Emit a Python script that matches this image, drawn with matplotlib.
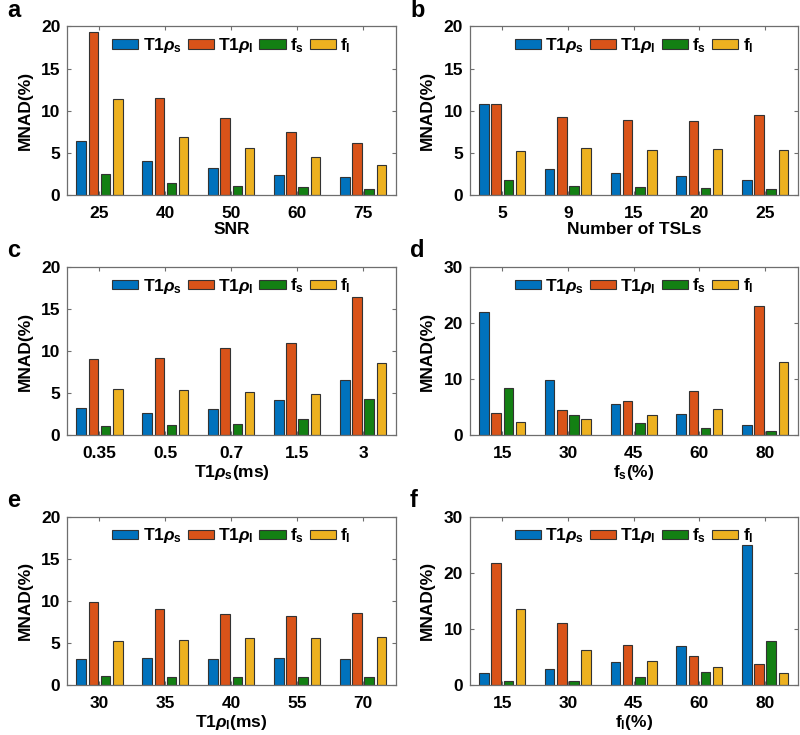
import matplotlib
matplotlib.use("Agg")
import matplotlib.pyplot as plt
import numpy as np

plt.rcParams['font.family'] = ['Liberation Sans', 'DejaVu Sans']
plt.rcParams['font.weight'] = 'bold'
plt.rcParams['mathtext.fontset'] = 'custom'
plt.rcParams['mathtext.rm'] = 'Liberation Sans:bold'
plt.rcParams['mathtext.bf'] = 'Liberation Sans:bold'
plt.rcParams['mathtext.it'] = 'Liberation Sans:italic'

series_names = [r'T1$\rho_\mathrm{s}$', r'T1$\rho_\mathrm{l}$', r'f$_\mathrm{s}$', r'f$_\mathrm{l}$']
colors = ['#0072BD', '#D95319', '#138013', '#EDB120']

# Panel a
a_ticks = ['25', '40', '50', '60', '75']
a_t1s = [6.4, 4.0, 3.2, 2.4, 2.1]
a_t1l = [19.4, 11.5, 9.1, 7.4, 6.1]
a_fs = [2.5, 1.4, 1.1, 0.9, 0.7]
a_fl = [11.4, 6.9, 5.6, 4.5, 3.5]

# Panel b
b_ticks = ['5', '9', '15', '20', '25']
b_t1s = [10.8, 3.1, 2.6, 2.2, 1.8]
b_t1l = [10.8, 9.2, 8.9, 8.8, 9.5]
b_fs = [1.8, 1.0, 0.9, 0.8, 0.7]
b_fl = [5.2, 5.5, 5.3, 5.4, 5.3]

# Panel c
c_ticks = ['0.35', '0.5', '0.7', '1.5', '3']
c_t1s = [3.2, 2.6, 3.1, 4.2, 6.5]
c_t1l = [9.0, 9.2, 10.3, 10.9, 16.4]
c_fs = [1.1, 1.2, 1.3, 1.9, 4.3]
c_fl = [5.5, 5.4, 5.1, 4.9, 8.6]

# Panel d
d_ticks = ['15', '30', '45', '60', '80']
d_t1s = [21.9, 9.8, 5.6, 3.7, 1.8]
d_t1l = [4.0, 4.5, 6.0, 7.9, 23.1]
d_fs = [8.4, 3.5, 2.2, 1.2, 0.7]
d_fl = [2.3, 2.8, 3.5, 4.7, 13.1]

# Panel e
e_ticks = ['30', '35', '40', '55', '70']
e_t1s = [3.1, 3.2, 3.1, 3.2, 3.1]
e_t1l = [9.9, 9.0, 8.4, 8.2, 8.6]
e_fs = [1.1, 1.0, 1.0, 1.0, 1.0]
e_fl = [5.2, 5.4, 5.6, 5.6, 5.7]

# Panel f
f_ticks = ['15', '30', '45', '60', '80']
f_t1s = [2.1, 2.8, 4.1, 6.9, 25.0]
f_t1l = [21.8, 11.0, 7.2, 5.1, 3.8]
f_fs = [0.7, 0.8, 1.4, 2.4, 7.8]
f_fl = [13.5, 6.2, 4.2, 3.2, 2.2]

panels = [
    ('a', a_ticks, [a_t1s, a_t1l, a_fs, a_fl], 'SNR', 20, [0, 5, 10, 15, 20]),
    ('b', b_ticks, [b_t1s, b_t1l, b_fs, b_fl], 'Number of TSLs', 20, [0, 5, 10, 15, 20]),
    ('c', c_ticks, [c_t1s, c_t1l, c_fs, c_fl], r'T1$\rho_\mathrm{s}$(ms)', 20, [0, 5, 10, 15, 20]),
    ('d', d_ticks, [d_t1s, d_t1l, d_fs, d_fl], r'f$_\mathrm{s}$(%)', 30, [0, 10, 20, 30]),
    ('e', e_ticks, [e_t1s, e_t1l, e_fs, e_fl], r'T1$\rho_\mathrm{l}$(ms)', 20, [0, 5, 10, 15, 20]),
    ('f', f_ticks, [f_t1s, f_t1l, f_fs, f_fl], r'f$_\mathrm{l}$(%)', 30, [0, 10, 20, 30]),
]

fig = plt.figure(figsize=(8, 7.35), dpi=100)
lefts = [0.084, 0.5875]
width_ax = [0.411, 0.41]
bottoms = [0.735, 0.408, 0.068]
height = 0.229

spine_col = '#6e6e6e'
offsets = [-1.5, -0.5, 0.5, 1.5]
step = 0.185
bw = 0.145

for i, (lab, ticks, data, xlabel, ymax, yticks) in enumerate(panels):
    r, c = divmod(i, 2)
    ax = fig.add_axes([lefts[c], bottoms[r], width_ax[c], height])
    x = np.arange(1, len(ticks) + 1)
    for k, (vals, name, col) in enumerate(zip(data, series_names, colors)):
        ax.bar(x + offsets[k] * step, vals, width=bw, color=col,
               edgecolor='#333333', linewidth=0.8, label=name)
    ax.set_xlim(0.51, 5.5)
    ax.set_ylim(0, ymax)
    ax.set_xticks(x)
    ax.set_xticklabels(ticks, fontsize=12.5, fontweight='bold')
    ax.set_yticks(yticks)
    ax.set_yticklabels([str(t) for t in yticks], fontsize=12.5, fontweight='bold')
    ax.tick_params(direction='in', top=True, right=True, length=3,
                   color=spine_col, width=0.8, pad=5)
    ax.tick_params(axis='x', pad=8)
    for sp in ax.spines.values():
        sp.set_color(spine_col)
        sp.set_linewidth(0.9)
    ax.set_xlabel(xlabel, fontsize=12.5, fontweight='bold', labelpad=1)
    ax.set_ylabel('MNAD(%)', fontsize=12.5, fontweight='bold', labelpad=6)
    ax.legend(loc='upper center', ncol=4, frameon=False,
              handlelength=1.5, handleheight=0.45, handletextpad=0.25,
              columnspacing=0.35, bbox_to_anchor=(0.5, 1.035),
              prop={'weight': 'bold', 'size': 12.5})
    pos = ax.get_position()
    fig.text(pos.x0 - 0.075, pos.y1 + 0.006, lab, fontsize=17, fontweight='bold',
             ha='left', va='bottom')

fig.savefig('out.png', dpi=100)
